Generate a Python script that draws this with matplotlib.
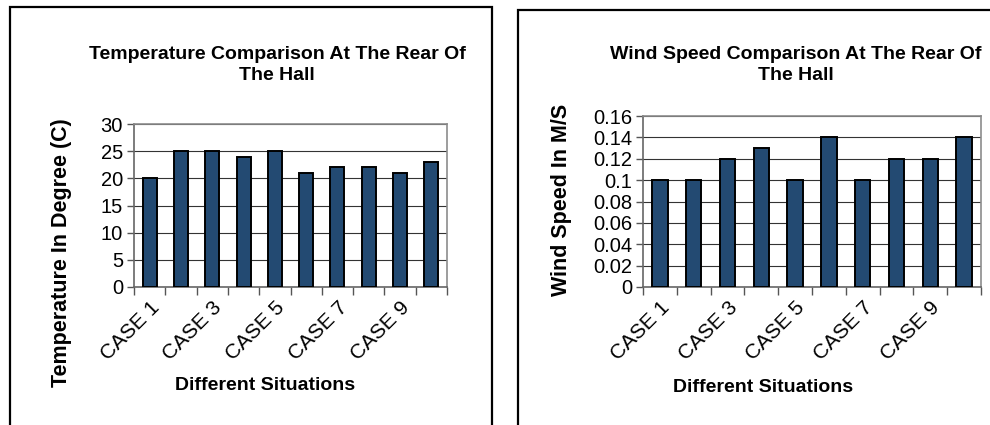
import matplotlib.pyplot as plt
import numpy as np
from matplotlib.patches import Rectangle

plt.rcParams['font.family'] = ['Liberation Sans', 'DejaVu Sans']

# Data
cases = ['CASE 1', 'CASE 2', 'CASE 3', 'CASE 4', 'CASE 5',
         'CASE 6', 'CASE 7', 'CASE 8', 'CASE 9', 'CASE 10']
temperature = [20, 25, 25, 24, 25, 21, 22, 22, 21, 23]
wind_speed = [0.10, 0.10, 0.12, 0.13, 0.10, 0.14, 0.10, 0.12, 0.12, 0.14]

temp_ticks = [0, 5, 10, 15, 20, 25, 30]
temp_labels = ['0', '5', '10', '15', '20', '25', '30']
wind_ticks = [0, 0.02, 0.04, 0.06, 0.08, 0.10, 0.12, 0.14, 0.16]
wind_labels = ['0', '0.02', '0.04', '0.06', '0.08', '0.1', '0.12', '0.14', '0.16']

bar_color = '#234A72'

fig = plt.figure(figsize=(9.9, 4.25), dpi=100)

# panel frames
fig.patches.append(Rectangle((10 / 990, -0.1), 482 / 990, 1.1 - 7 / 425,
                             transform=fig.transFigure, fill=False,
                             edgecolor='black', linewidth=1.6))
fig.patches.append(Rectangle((518 / 990, -0.1), 0.6, 1.1 - 10 / 425,
                             transform=fig.transFigure, fill=False,
                             edgecolor='black', linewidth=1.6))


def draw_panel(rect, values, yticks, ylabels, ylim):
    ax = fig.add_axes(rect)
    x = np.arange(len(cases))
    ax.bar(x, values, width=0.45, color=bar_color, edgecolor='black',
           linewidth=1.4, zorder=3)
    ax.set_xlim(-0.5, len(cases) - 0.5)
    ax.set_ylim(*ylim)
    ax.set_yticks(yticks)
    ax.set_yticklabels(ylabels)
    ax.yaxis.grid(True, color='#333333', linewidth=0.8, zorder=0)
    ax.set_axisbelow(True)
    # category labels (every other one), tick marks on category boundaries
    ax.set_xticks(x[::2])
    ax.set_xticklabels(cases[::2], rotation=45, ha='right',
                       rotation_mode='anchor')
    ax.set_xticks(np.arange(-0.5, len(cases)), minor=True)
    ax.tick_params(axis='x', which='major', length=0, pad=8, labelsize=15)
    ax.tick_params(axis='x', which='minor', length=6, width=1, color='#555555')
    ax.tick_params(axis='y', length=5, width=1, color='#555555', labelsize=14.5,
                   pad=3)
    for s in ['top', 'right']:
        ax.spines[s].set_color('#8c8c8c')
    for s in ['left', 'bottom']:
        ax.spines[s].set_color('#666666')
    for s in ax.spines.values():
        s.set_linewidth(1.2)
    return ax


draw_panel([134 / 990, 1 - 287 / 425, 313 / 990, 163 / 425],
           temperature, temp_ticks, temp_labels, (0, 30))
draw_panel([643 / 990, 1 - 287 / 425, 338 / 990, 171 / 425],
           wind_speed, wind_ticks, wind_labels, (0, 0.16))

# titles and axis labels
fig.text(277 / 990, 1 - 65 / 425, 'Temperature Comparison At The Rear Of\nThe Hall',
         ha='center', va='center', fontsize=14, fontweight='bold', linespacing=1.3)
fig.text(796 / 990, 1 - 65 / 425, 'Wind Speed Comparison At The Rear Of\nThe Hall',
         ha='center', va='center', fontsize=14, fontweight='bold', linespacing=1.3)

fig.text(62 / 990, 1 - 253 / 425, 'Temperature In Degree (C)', rotation=90,
         ha='center', va='center', fontsize=15.5, fontweight='bold')
fig.text(561 / 990, 1 - 200 / 425, 'Wind Speed In M/S', rotation=90,
         ha='center', va='center', fontsize=15.5, fontweight='bold')

fig.text(265 / 990, 1 - 385 / 425, 'Different Situations',
         ha='center', va='center', fontsize=14, fontweight='bold')
fig.text(763 / 990, 1 - 388 / 425, 'Different Situations',
         ha='center', va='center', fontsize=14, fontweight='bold')

plt.savefig('out.png', dpi=100)
